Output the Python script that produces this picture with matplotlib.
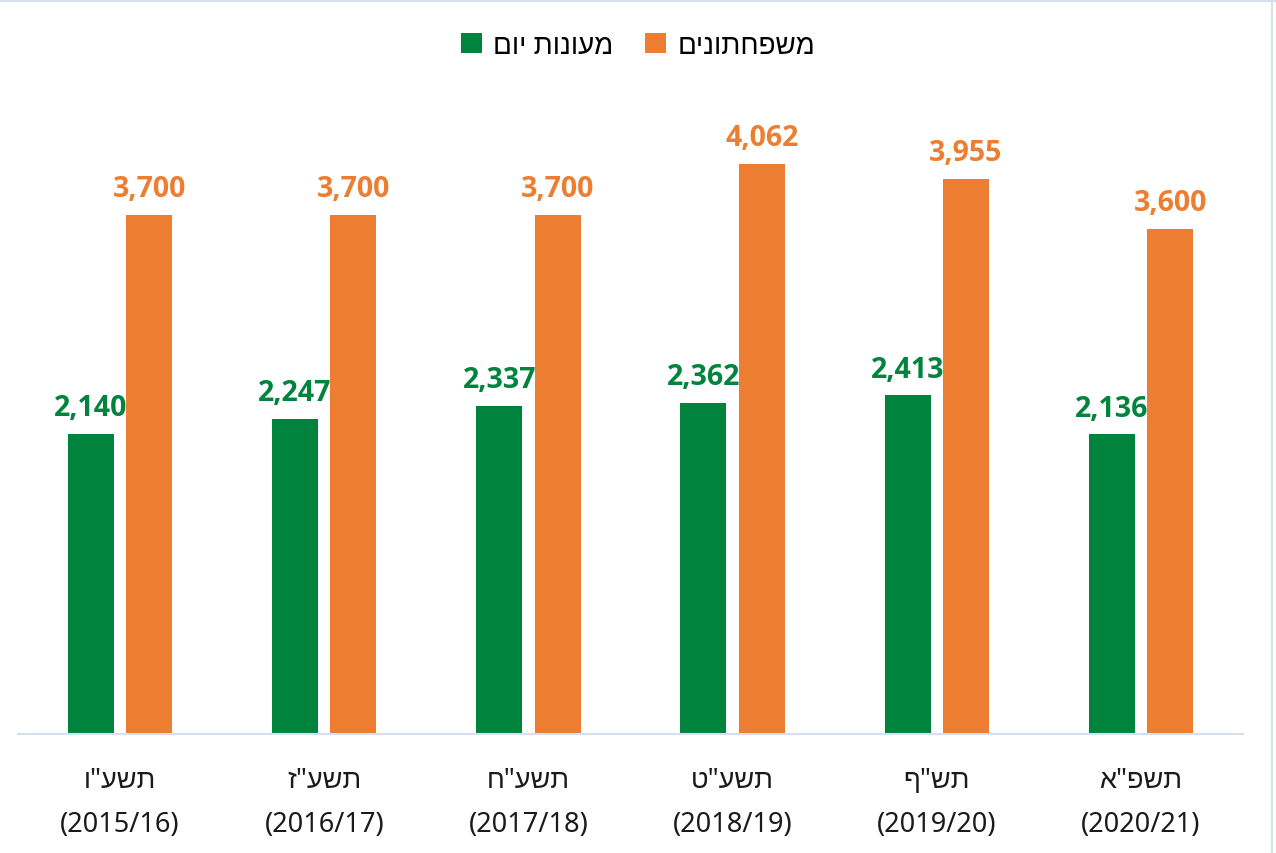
import matplotlib
matplotlib.use("Agg")
import matplotlib.pyplot as plt
import numpy as np
from matplotlib.lines import Line2D

# data
years_he = ['תשע"ו', 'תשע"ז', 'תשע"ח', 'תשע"ט', 'תש"ף', 'תשפ"א']
years_en = ["(2015/16)", "(2016/17)", "(2017/18)", "(2018/19)", "(2019/20)", "(2020/21)"]
daycare = [2140, 2247, 2337, 2362, 2413, 2136]
family_care = [3700, 3700, 3700, 4062, 3955, 3600]
series_names = ["מעונות יום", "משפחתונים"]

GREEN = "#00843d"
ORANGE = "#ed7d31"
FONTS = ["Noto Sans", "Liberation Sans", "DejaVu Sans"]
plt.rcParams["font.family"] = FONTS


def rtl(s):
    # matplotlib has no bidi support: reverse Hebrew for visual order
    return s[::-1]


fig = plt.figure(figsize=(12.76, 8.54), dpi=100)
ax = fig.add_axes([18 / 1276, 119 / 854, 1225 / 1276, 655 / 854])

x = np.arange(len(years_he))
w = 0.225
off = 0.143
b1 = ax.bar(x - off, daycare, w, color=GREEN, label=rtl(series_names[0]))
b2 = ax.bar(x + off, family_care, w, color=ORANGE, label=rtl(series_names[1]))

for bars, vals, col in [(b1, daycare, GREEN), (b2, family_care, ORANGE)]:
    for r, v in zip(bars, vals):
        ax.annotate(f"{v:,}", (r.get_x() + r.get_width() / 2, v),
                    xytext=(0, 8.5), textcoords="offset points",
                    ha="center", va="bottom", fontsize=20.5,
                    fontweight="bold", color=col,
                    family=["Open Sans", "DejaVu Sans"])

ax.set_xlim(-0.5, len(years_he) - 0.5)
ax.set_ylim(0, 4669)
ax.set_xticks(x)
ax.set_xticklabels([f"{rtl(h)}\n{e}" for h, e in zip(years_he, years_en)],
                   fontsize=19.5, color="#1a1a1a", linespacing=1.75)
ax.tick_params(axis="x", length=0, pad=23)
ax.set_yticks([])
for s in ["top", "right", "left"]:
    ax.spines[s].set_visible(False)
ax.spines["bottom"].set_color("#d6e0f0")
ax.spines["bottom"].set_linewidth(1.5)

leg = fig.legend(handles=[b1, b2], loc="center", bbox_to_anchor=(0.5, 1 - 47 / 854),
                 ncol=2, frameon=False, fontsize=20,
                 handlelength=0.75, handleheight=0.75, columnspacing=1.15,
                 handletextpad=0.4)

# thin frame lines along top and right edges
fig.add_artist(Line2D([0, 1], [1 - 1.5 / 854] * 2, color="#d6e0f0", lw=1.5,
                      transform=fig.transFigure))
fig.add_artist(Line2D([1272 / 1276] * 2, [0, 1], color="#d6e0f0", lw=1.5,
                      transform=fig.transFigure))

fig.savefig("out.png", dpi=100)
